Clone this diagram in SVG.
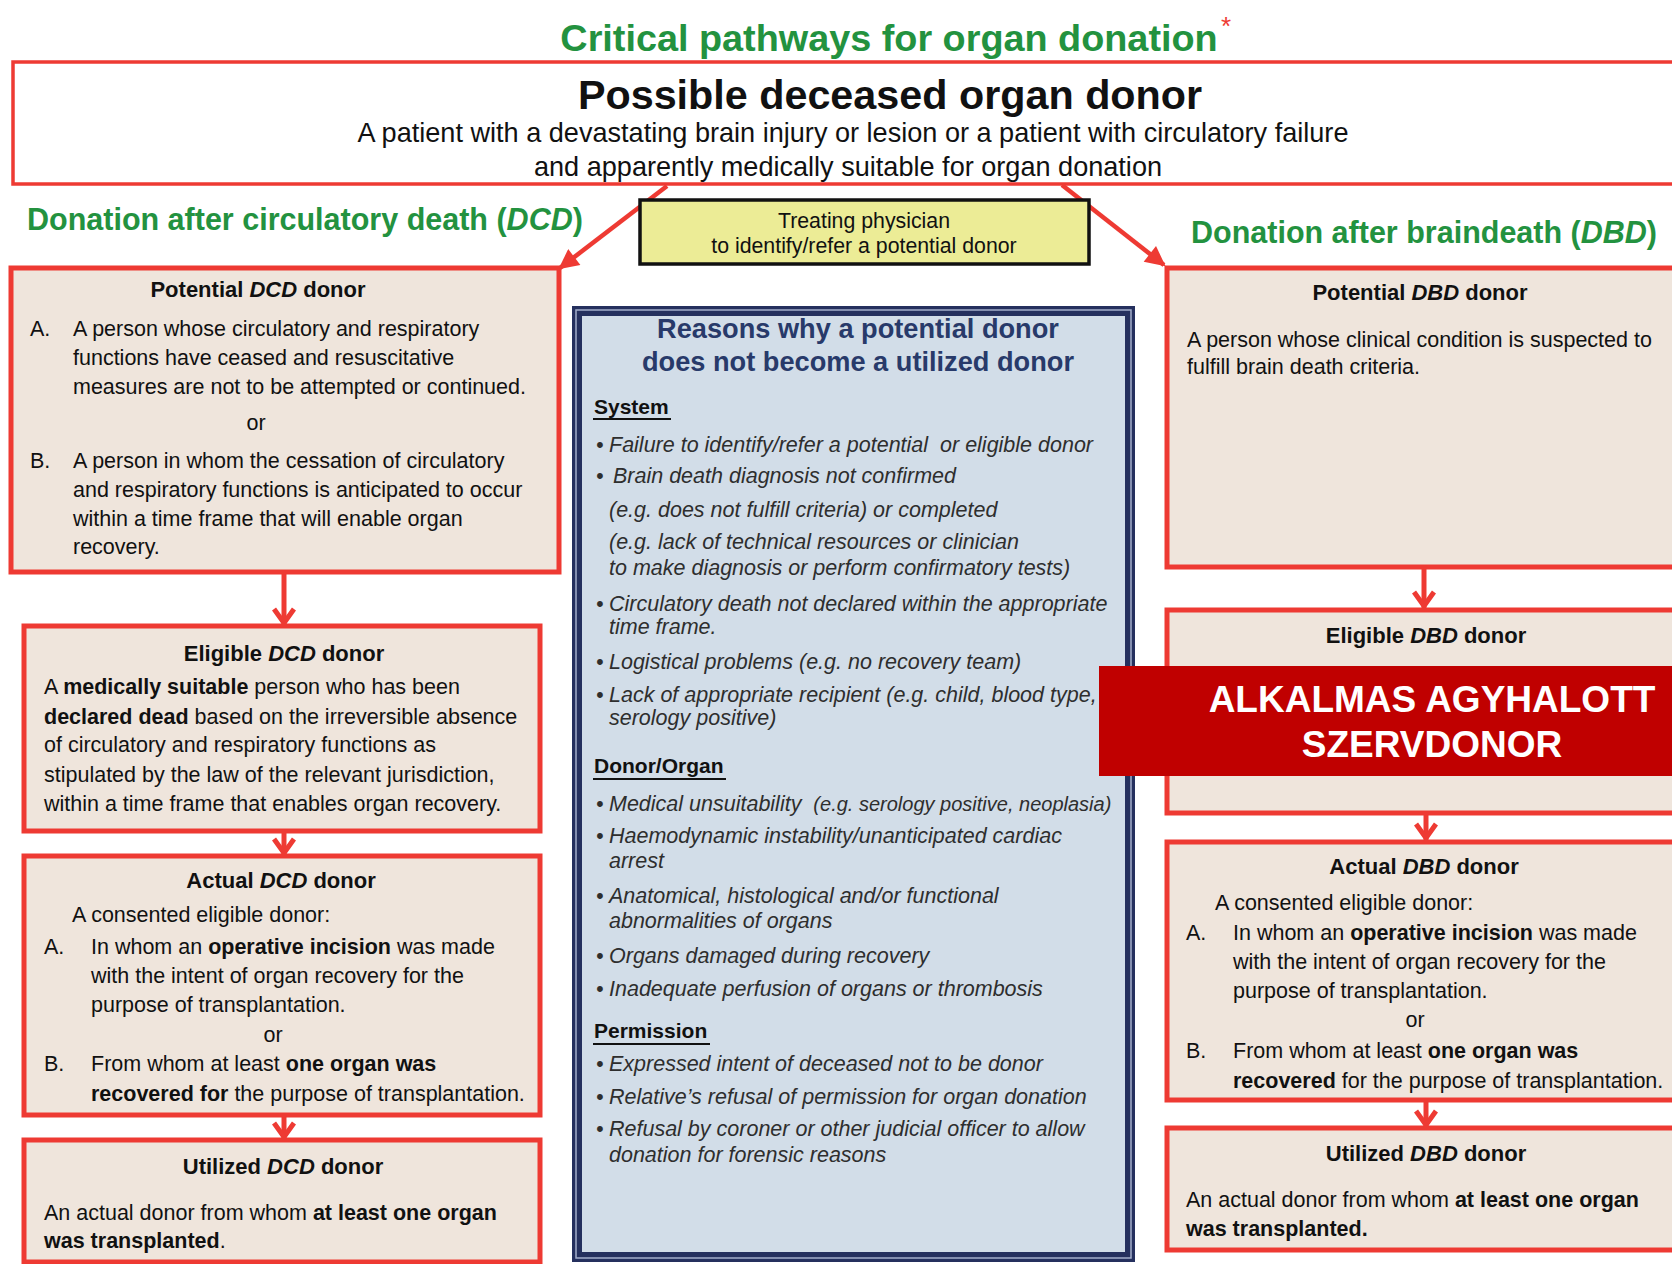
<svg xmlns="http://www.w3.org/2000/svg" width="1672" height="1264" viewBox="0 0 1672 1264">
<defs>
<style>
text{font-family:"Liberation Sans",Arial,sans-serif;fill:#111}
.green{fill:#23923f;font-weight:bold}
.box{fill:#efe5dc;stroke:#ee3a33;stroke-width:5}
.t{font-size:22px;font-weight:bold;text-anchor:middle}
.b{font-size:21.5px}
.bold{font-weight:bold}
.it{font-style:italic}
.r{font-size:21.5px;font-style:italic;fill:#2e2e2e}
.h{font-size:21px;font-weight:bold;fill:#111}
.ul{stroke:#111;stroke-width:2}
.conn{stroke:#ee3a33;stroke-width:5;fill:none}
.diag{stroke:#ee3a33;stroke-width:4.5;fill:none}
</style>
<marker id="tri" viewBox="0 0 10 10" refX="9" refY="5" markerWidth="22" markerHeight="20" markerUnits="userSpaceOnUse" orient="auto">
<path d="M0,0 L10,5 L0,10 Z" fill="#ee3a33"/>
</marker>
<marker id="chev" viewBox="-20 -12 24 24" refX="0" refY="0" markerWidth="24" markerHeight="24" markerUnits="userSpaceOnUse" orient="auto">
<path d="M-16,-10 L-2,0 L-16,10" fill="none" stroke="#ee3a33" stroke-width="5"/>
</marker>
</defs>
<rect width="1672" height="1264" fill="#ffffff"/>

<g id="title">
<text x="889" y="51" class="green" font-size="37.8" text-anchor="middle">Critical pathways for organ donation</text>
<text x="1221" y="35" font-size="26" style="fill:#ee3a33">*</text>
</g>

<g id="possible">
<rect x="13" y="62" width="1680" height="122" fill="#fff" stroke="#ee3a33" stroke-width="3.5"/>
<text x="890" y="109" font-size="41.3" font-weight="bold" text-anchor="middle">Possible deceased organ donor</text>
<text x="853" y="142" font-size="27.1" text-anchor="middle">A patient with a devastating brain injury or lesion or a patient with circulatory failure</text>
<text x="848" y="176" font-size="27.1" text-anchor="middle">and apparently medically suitable for organ donation</text>
</g>

<g id="heading-dcd"><text x="27" y="230" class="green" font-size="30.5">Donation after circulatory death (<tspan class="it">DCD</tspan>)</text></g>
<g id="heading-dbd"><text x="1191" y="243" class="green" font-size="30.5">Donation after braindeath (<tspan class="it">DBD</tspan>)</text></g>

<g id="connectors">
<line x1="667" y1="186" x2="560" y2="268" class="diag" marker-end="url(#tri)"/>
<line x1="1062" y1="185" x2="1164" y2="265" class="diag" marker-end="url(#tri)"/>
<line x1="284" y1="572" x2="284" y2="625" class="conn" marker-end="url(#chev)"/>
<line x1="284" y1="831" x2="284" y2="855" class="conn" marker-end="url(#chev)"/>
<line x1="284" y1="1115" x2="284" y2="1139" class="conn" marker-end="url(#chev)"/>
<line x1="1424" y1="567" x2="1424" y2="608" class="conn" marker-end="url(#chev)"/>
<line x1="1426" y1="813" x2="1426" y2="840" class="conn" marker-end="url(#chev)"/>
<line x1="1426" y1="1100" x2="1426" y2="1127" class="conn" marker-end="url(#chev)"/>
</g>

<g id="physician">
<rect x="640" y="200" width="449" height="64" fill="#ecec96" stroke="#111" stroke-width="3.5"/>
<text x="864" y="228" font-size="21.3" text-anchor="middle">Treating physician</text>
<text x="864" y="253" font-size="21.3" text-anchor="middle">to identify/refer a potential donor</text>
</g>

<g id="potential-dcd">
<rect x="11" y="268" width="548" height="304" class="box"/>
<text x="258" y="297" class="t">Potential <tspan class="it">DCD</tspan> donor</text>
<text x="30" y="336" class="b">A.</text>
<text x="73" y="336" class="b">A person whose circulatory and respiratory</text>
<text x="73" y="365" class="b">functions have ceased and resuscitative</text>
<text x="73" y="394" class="b">measures are not to be attempted or continued.</text>
<text x="256" y="430" class="b" text-anchor="middle">or</text>
<text x="30" y="468" class="b">B.</text>
<text x="73" y="468" class="b">A person in whom the cessation of circulatory</text>
<text x="73" y="497" class="b">and respiratory functions is anticipated to occur</text>
<text x="73" y="526" class="b">within a time frame that will enable organ</text>
<text x="73" y="554" class="b">recovery.</text>
</g>

<g id="eligible-dcd">
<rect x="24" y="626" width="516" height="205" class="box"/>
<text x="284" y="661" class="t">Eligible <tspan class="it">DCD</tspan> donor</text>
<text x="44" y="694" class="b">A <tspan class="bold">medically suitable</tspan> person who has been</text>
<text x="44" y="724" class="b"><tspan class="bold">declared dead</tspan> based on the irreversible absence</text>
<text x="44" y="752" class="b">of circulatory and respiratory functions as</text>
<text x="44" y="782" class="b">stipulated by the law of the relevant jurisdiction,</text>
<text x="44" y="811" class="b">within a time frame that enables organ recovery.</text>
</g>

<g id="actual-dcd">
<rect x="24" y="856" width="516" height="259" class="box"/>
<text x="281" y="888" class="t">Actual <tspan class="it">DCD</tspan> donor</text>
<text x="72" y="922" class="b">A consented eligible donor:</text>
<text x="44" y="954" class="b">A.</text>
<text x="91" y="954" class="b">In whom an <tspan class="bold">operative incision</tspan> was made</text>
<text x="91" y="983" class="b">with the intent of organ recovery for the</text>
<text x="91" y="1012" class="b">purpose of transplantation.</text>
<text x="273" y="1042" class="b" text-anchor="middle">or</text>
<text x="44" y="1071" class="b">B.</text>
<text x="91" y="1071" class="b">From whom at least <tspan class="bold">one organ was</tspan></text>
<text x="91" y="1101" class="b"><tspan class="bold">recovered for</tspan> the purpose of transplantation.</text>
</g>

<g id="utilized-dcd">
<rect x="24" y="1140" width="516" height="122" class="box"/>
<text x="283" y="1174" class="t">Utilized <tspan class="it">DCD</tspan> donor</text>
<text x="44" y="1220" class="b">An actual donor from whom <tspan class="bold">at least one organ</tspan></text>
<text x="44" y="1248" class="b"><tspan class="bold">was transplanted</tspan>.</text>
</g>

<g id="reasons">
<rect x="577" y="311" width="553" height="946" fill="#d2dde8" stroke="#25305e" stroke-width="10"/>
<rect x="576" y="310" width="555" height="948" fill="none" stroke="#a4aecb" stroke-width="1.5"/>
<text x="858" y="338" font-size="27.2" font-weight="bold" text-anchor="middle" style="fill:#283a6a">Reasons why a potential donor</text>
<text x="858" y="371" font-size="27.2" font-weight="bold" text-anchor="middle" style="fill:#283a6a">does not become a utilized donor</text>
<text x="594" y="414" class="h">System</text>
<line x1="593" y1="419" x2="671" y2="419" class="ul"/>
<text x="596" y="452" class="r">•</text><text x="609" y="452" class="r" xml:space="preserve">Failure to identify/refer a potential  or eligible donor</text>
<text x="596" y="483" class="r">•</text><text x="613" y="483" class="r">Brain death diagnosis not confirmed</text>
<text x="609" y="517" class="r">(e.g. does not fulfill criteria) or completed</text>
<text x="609" y="549" class="r">(e.g. lack of technical resources or clinician</text>
<text x="609" y="575" class="r">to make diagnosis or perform confirmatory tests)</text>
<text x="596" y="611" class="r">•</text><text x="609" y="611" class="r">Circulatory death not declared within the appropriate</text>
<text x="609" y="634" class="r">time frame.</text>
<text x="596" y="669" class="r">•</text><text x="609" y="669" class="r">Logistical problems (e.g. no recovery team)</text>
<text x="596" y="702" class="r">•</text><text x="609" y="702" class="r">Lack of appropriate recipient (e.g. child, blood type,</text>
<text x="609" y="725" class="r">serology positive)</text>
<text x="594" y="773" class="h">Donor/Organ</text>
<line x1="593" y1="779" x2="726" y2="779" class="ul"/>
<text x="596" y="811" class="r">•</text><text x="609" y="811" class="r" xml:space="preserve">Medical unsuitability  <tspan font-size="20">(e.g. serology positive, neoplasia)</tspan></text>
<text x="596" y="843" class="r">•</text><text x="609" y="843" class="r">Haemodynamic instability/unanticipated cardiac</text>
<text x="609" y="868" class="r">arrest</text>
<text x="596" y="903" class="r">•</text><text x="609" y="903" class="r">Anatomical, histological and/or functional</text>
<text x="609" y="928" class="r">abnormalities of organs</text>
<text x="596" y="963" class="r">•</text><text x="609" y="963" class="r">Organs damaged during recovery</text>
<text x="596" y="996" class="r">•</text><text x="609" y="996" class="r">Inadequate perfusion of organs or thrombosis</text>
<text x="594" y="1038" class="h">Permission</text>
<line x1="593" y1="1044" x2="710" y2="1044" class="ul"/>
<text x="596" y="1071" class="r">•</text><text x="609" y="1071" class="r">Expressed intent of deceased not to be donor</text>
<text x="596" y="1104" class="r">•</text><text x="609" y="1104" class="r">Relative’s refusal of permission for organ donation</text>
<text x="596" y="1136" class="r">•</text><text x="609" y="1136" class="r">Refusal by coroner or other judicial officer to allow</text>
<text x="609" y="1162" class="r">donation for forensic reasons</text>
</g>

<g id="potential-dbd">
<rect x="1167" y="268" width="520" height="299" class="box"/>
<text x="1420" y="300" class="t">Potential <tspan class="it">DBD</tspan> donor</text>
<text x="1187" y="347" class="b">A person whose clinical condition is suspected to</text>
<text x="1187" y="374" class="b">fulfill brain death criteria.</text>
</g>

<g id="eligible-dbd">
<rect x="1167" y="610" width="520" height="203" class="box"/>
<text x="1426" y="643" class="t">Eligible <tspan class="it">DBD</tspan> donor</text>
</g>

<g id="actual-dbd">
<rect x="1167" y="842" width="520" height="258" class="box"/>
<text x="1424" y="874" class="t">Actual <tspan class="it">DBD</tspan> donor</text>
<text x="1215" y="910" class="b">A consented eligible donor:</text>
<text x="1186" y="940" class="b">A.</text>
<text x="1233" y="940" class="b">In whom an <tspan class="bold">operative incision</tspan> was made</text>
<text x="1233" y="969" class="b">with the intent of organ recovery for the</text>
<text x="1233" y="998" class="b">purpose of transplantation.</text>
<text x="1415" y="1027" class="b" text-anchor="middle">or</text>
<text x="1186" y="1058" class="b">B.</text>
<text x="1233" y="1058" class="b">From whom at least <tspan class="bold">one organ was</tspan></text>
<text x="1233" y="1088" class="b"><tspan class="bold">recovered</tspan> for the purpose of transplantation.</text>
</g>

<g id="utilized-dbd">
<rect x="1167" y="1128" width="520" height="122" class="box"/>
<text x="1426" y="1161" class="t">Utilized <tspan class="it">DBD</tspan> donor</text>
<text x="1186" y="1207" class="b">An actual donor from whom <tspan class="bold">at least one organ</tspan></text>
<text x="1186" y="1236" class="b"><tspan class="bold">was transplanted.</tspan></text>
</g>

<g id="label">
<rect x="1099" y="666" width="590" height="110" fill="#c00000"/>
<text x="1432" y="712" font-size="37" font-weight="bold" text-anchor="middle" style="fill:#ffffff">ALKALMAS AGYHALOTT</text>
<text x="1432" y="757" font-size="37" font-weight="bold" text-anchor="middle" style="fill:#ffffff">SZERVDONOR</text>
</g>
</svg>
